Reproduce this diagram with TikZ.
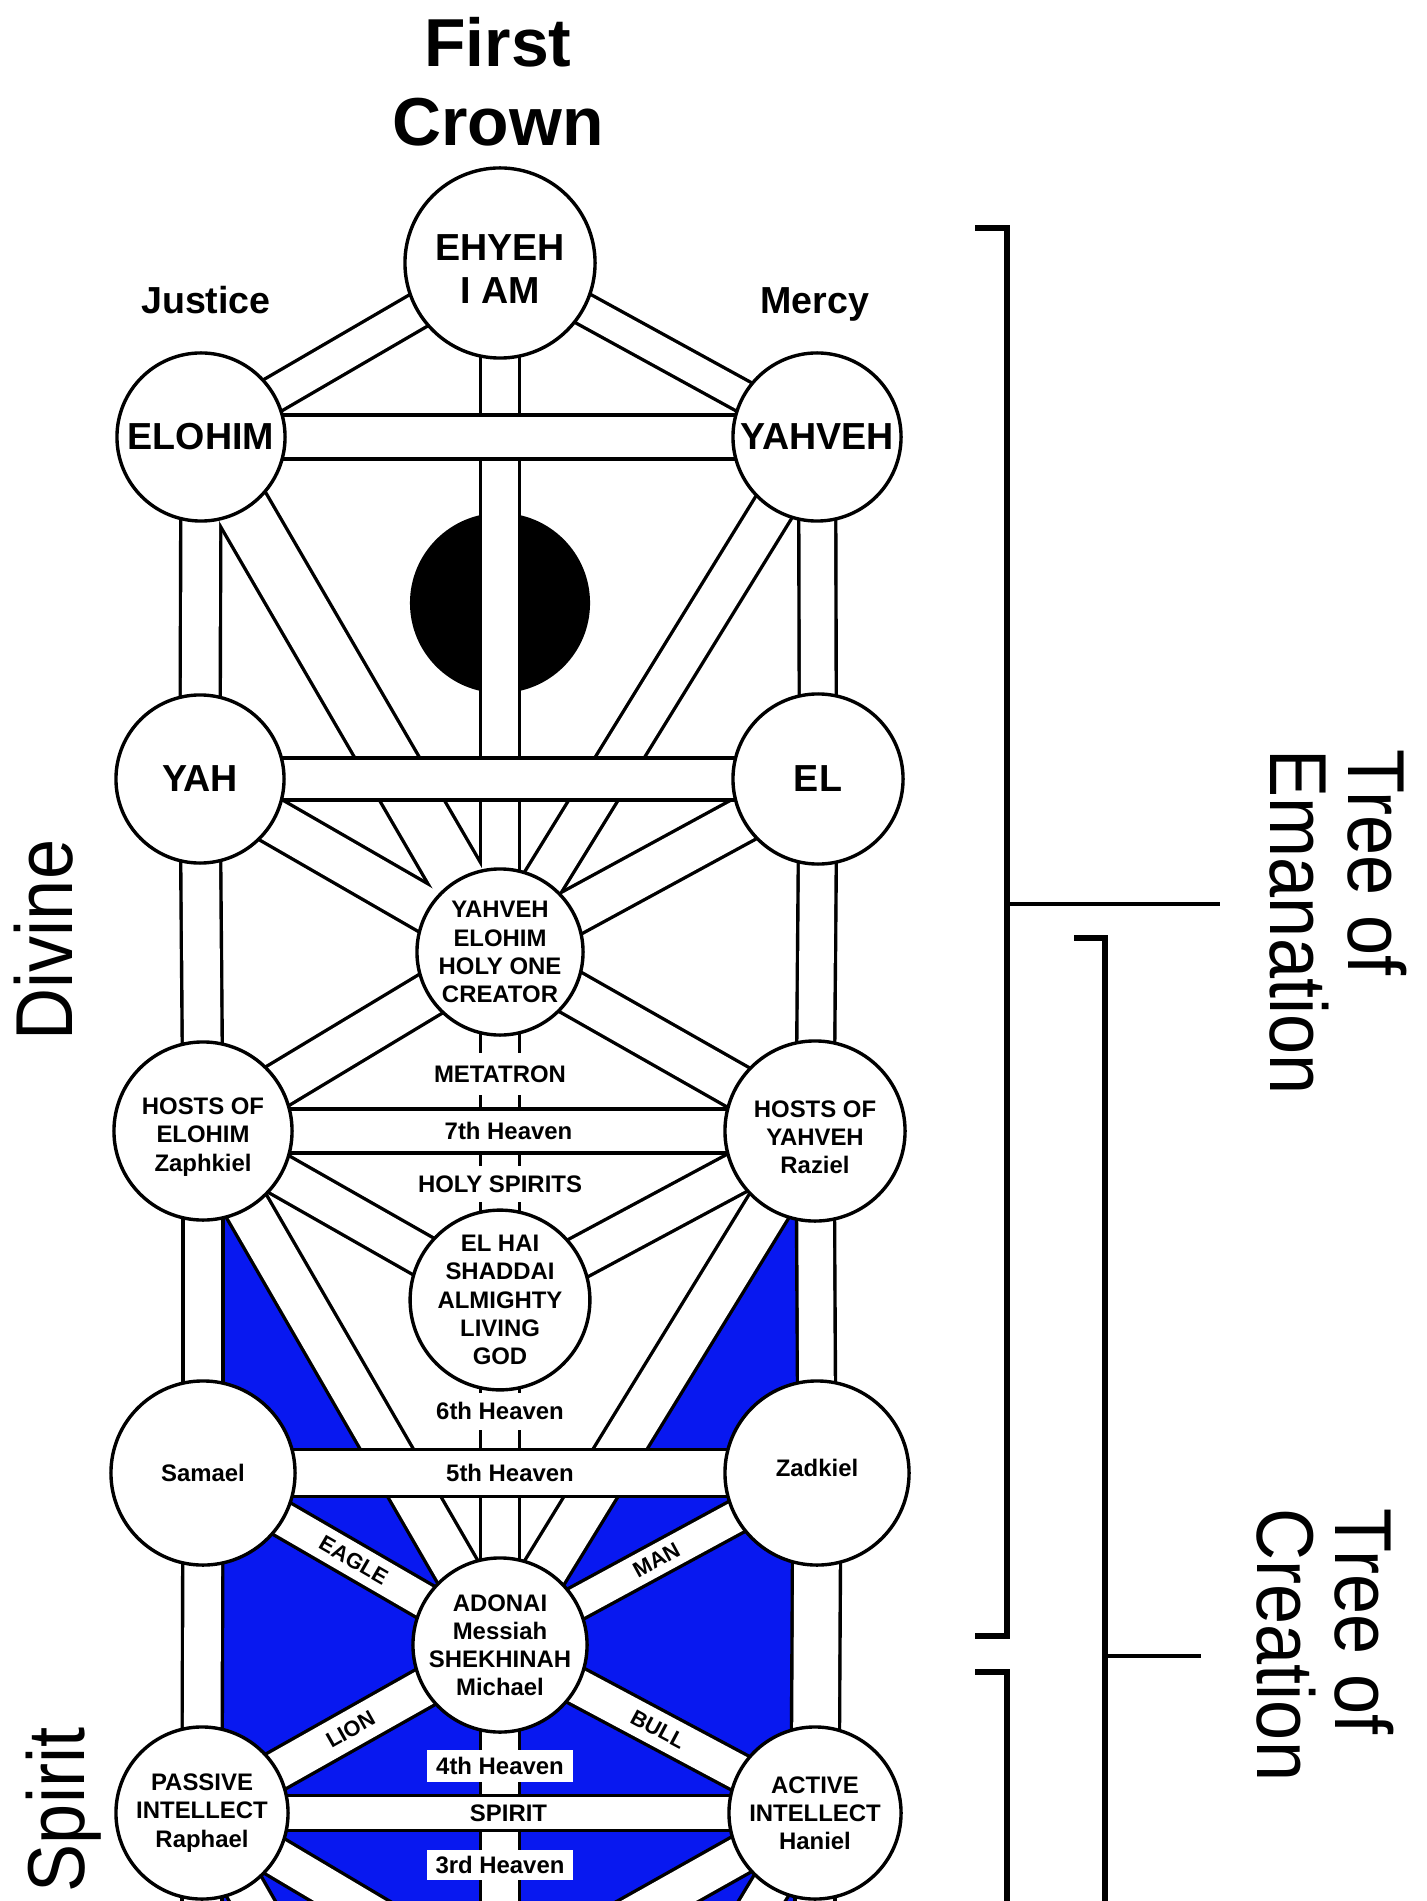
\documentclass[tikz,border=0pt]{standalone}
\usepackage{fontspec}
\setmainfont{Liberation Sans}
\definecolor{stained}{RGB}{8,24,240}
\pgfdeclarelayer{back}
\pgfdeclarelayer{band}
\pgfdeclarelayer{bar}
\pgfsetlayers{back,band,bar,main}

\def\paths{EHYEH/ELOHIM/36, EHYEH/YAHVEH/32, EHYEH/CREATOR/39, ELOHIM/YAH/40, YAHVEH/EL/37,
  ELOHIM/CREATOR/56, YAHVEH/CREATOR/42, YAH/CREATOR/46, EL/CREATOR/46,
  CREATOR/HOSTSL/45, CREATOR/HOSTSR/45, YAH/HOSTSL/40, EL/HOSTSR/38,
  HOSTSL/ELHAI/42, HOSTSR/ELHAI/42, CREATOR/ELHAI/39, HOSTSL/ADONAI/46, HOSTSR/ADONAI/46,
  ELHAI/ADONAI/39, HOSTSL/SAMAEL/40, HOSTSR/ZADKIEL/38, SAMAEL/ADONAI/36, ZADKIEL/ADONAI/34,
  SAMAEL/PASSIVE/40, ZADKIEL/ACTIVE/48, ADONAI/PASSIVE/40, ADONAI/ACTIVE/38, ADONAI/Y3/39,
  PASSIVE/Y3/40, ACTIVE/Y3/40, PASSIVE/M3/40, ACTIVE/M3/40, PASSIVE/PB/40, ACTIVE/AB/40}
\def\bars{ELOHIM/YAHVEH/44, YAH/EL/42, HOSTSL/HOSTSR/44, SAMAEL/ZADKIEL/47, PASSIVE/ACTIVE/35}

\begin{document}
\begin{tikzpicture}[x=0.01cm, y=-0.01cm, line width=0.034cm,
    sefira/.style={circle, draw, fill=white, inner sep=0pt, align=center},
    bigname/.style={font=\bfseries\fontsize{10.7}{12}\selectfont},
    smallname/.style={font=\bfseries\fontsize{6.8}{8}\selectfont},
    beastname/.style={font=\bfseries\fontsize{6.2}{7}\selectfont, inner sep=0pt},
    heading/.style={font=\bfseries\fontsize{19.3}{22.5}\selectfont, inner sep=0pt},
    sideways/.style={font=\fontsize{20.5}{19.8}\selectfont, inner sep=0pt, xscale=1.12},
    gap/.style={smallname, fill=white, inner xsep=2pt, inner ysep=0pt},
    heaven/.style={smallname, fill=white, inner sep=0pt, minimum width=1.45cm}]
  \useasboundingbox (0,0) rectangle (1426,1901);

  \node[heading, anchor=north, align=center] (TITLE) at (498,16) {First\\Crown};
  \node[bigname, anchor=base] (JUSTICE) at (206,314) {Justice};
  \node[bigname, anchor=base] (MERCY) at (815,314) {Mercy};

  \node[sefira, minimum size=1.9cm] (EHYEH) at (500,263) {};
  \node[bigname, align=center] (EHYEHTEXT) at (500,269) {EHYEH\\I AM};
  \node[sefira, bigname, minimum size=1.68cm] (ELOHIM) at (201,437) {ELOHIM};
  \node[sefira, bigname, minimum size=1.68cm] (YAHVEH) at (817,437) {YAHVEH};
  \node[sefira, bigname, minimum size=1.68cm] (YAH) at (200,779) {YAH};
  \node[sefira, bigname, minimum size=1.7cm] (EL) at (818,779) {EL};
  \node[sefira, smallname, minimum size=1.66cm] (CREATOR) at (500,952) {YAHVEH\\ELOHIM\\HOLY ONE\\CREATOR};
  \node[sefira, minimum size=1.78cm] (HOSTSL) at (203,1131) {};
  \node[smallname, align=center] (HOSTSLTEXT) at (203,1137) {HOSTS OF\\ELOHIM\\Zaphkiel};
  \node[sefira, minimum size=1.8cm] (HOSTSR) at (815,1131) {};
  \node[smallname, align=center] (HOSTSRTEXT) at (815,1137) {HOSTS OF\\YAHVEH\\Raziel};
  \node[sefira, smallname, minimum size=1.68cm] (ELHAI) at (500,1300) {EL HAI\\SHADDAI\\ALMIGHTY\\LIVING\\GOD};
  \node[sefira, smallname, minimum size=1.84cm] (SAMAEL) at (203,1473) {Samael};
  \node[sefira, minimum size=1.84cm] (ZADKIEL) at (817,1473) {};
  \node[smallname] (ZADKIELTEXT) at (817,1468) {Zadkiel};
  \node[sefira, smallname, minimum size=1.66cm] (ADONAI) at (500,1645) {ADONAI\\Messiah\\SHEKHINAH\\Michael};
  \node[sefira, smallname, minimum size=1.72cm] (PASSIVE) at (202,1813) {PASSIVE\\INTELLECT\\Raphael};
  \node[sefira, smallname, minimum size=1.72cm] (ACTIVE) at (815,1813) {ACTIVE\\INTELLECT\\Haniel};
  \coordinate (Y3) at (500,1990);
  \coordinate (M3) at (500,2335);
  \coordinate (PB) at (202,2100);
  \coordinate (AB) at (815,2100);

  \node[gap, minimum height=0.42cm] (METATRON) at (500,1074) {METATRON};
  \node[gap, minimum height=0.36cm] (SPIRITS) at (500,1184) {HOLY SPIRITS};
  \node[gap, minimum height=0.37cm] (SIXTH) at (500,1411) {6th Heaven};
  \node[heaven, minimum height=0.32cm] (FOURTH) at (500,1766) {4th Heaven};
  \node[heaven, minimum height=0.3cm] (THIRD) at (500,1865) {3rd Heaven};
  \path (HOSTSL) -- (HOSTSR) node[midway, smallname] {7th Heaven};
  \path (SAMAEL) -- (ZADKIEL) node[midway, smallname] {5th Heaven};
  \path (PASSIVE) -- (ACTIVE) node[midway, smallname] {SPIRIT};
  \path (SAMAEL) -- (ADONAI) node[midway, sloped, beastname] {EAGLE};
  \path (ZADKIEL) -- (ADONAI) node[midway, sloped, beastname] {MAN};
  \path (PASSIVE) -- (ADONAI) node[midway, sloped, beastname] {LION};
  \path (ADONAI) -- (ACTIVE) node[midway, sloped, beastname] {BULL};

  \node[sideways, rotate=90] (DIVINE) at (44,940) {Divine};
  \node[sideways, rotate=90] (SPIRIT) at (64,1810) {Spirit};
  \node[sideways, rotate=-90, anchor=north west, align=left] (EMANATION) at (1409,748) {Tree of\\Emanation};
  \node[sideways, rotate=-90, anchor=north west, align=left] (CREATION) at (1396,1507) {Tree of\\Creation};

  \draw[line width=0.055cm] (975,228) -- (1007,228) -- (1007,1636) -- (975,1636);
  \draw[line width=0.055cm] (975,1672) -- (1007,1672) -- (1007,1950);
  \draw[line width=0.055cm] (1074,938) -- (1105,938) -- (1105,1950);
  \draw (1007,904) -- (1220,904);
  \draw (1105,1656) -- (1201,1656);

  \begin{pgfonlayer}{back}
    \fill[white] (0,0) rectangle (1426,1901);
    \node[circle, fill, inner sep=0pt, minimum size=1.8cm] (DISK) at (500,603) {};
    \fill[stained] (HOSTSL.center) rectangle (AB);
    \fill[white] (HOSTSL.center) -- (HOSTSR.center) -- (ADONAI.center) -- cycle;
  \end{pgfonlayer}

  \begin{pgfonlayer}{band}
    \foreach \a/\b/\w in \paths
      \draw[line width=\w*0.01cm+0.034cm] (\a.center) -- (\b.center);
    \foreach \a/\b/\w in \paths
      \draw[white, line width=\w*0.01cm-0.034cm] (\a.center) -- (\b.center);
  \end{pgfonlayer}

  \begin{pgfonlayer}{bar}
    \foreach \a/\b/\w in \bars
      \draw[line width=\w*0.01cm+0.034cm] (\a.center) -- (\b.center);
    \foreach \a/\b/\w in \bars
      \draw[white, line width=\w*0.01cm-0.034cm] (\a.center) -- (\b.center);
  \end{pgfonlayer}
\end{tikzpicture}
\end{document}
